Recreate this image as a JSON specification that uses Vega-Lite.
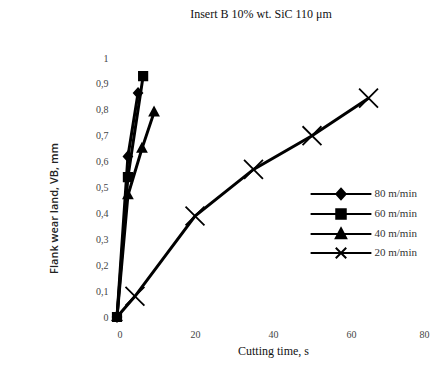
{
  "$schema": "https://vega.github.io/schema/vega-lite/v6.json",
  "autosize": "none",
  "padding": {"left": 117, "top": 58, "right": 7, "bottom": 61},
  "width": 312,
  "height": 259,
  "background": "white",
  "title": {"text": "Insert B 10% wt. SiC 110 μm", "font": "Liberation Serif", "fontSize": 12, "fontWeight": "normal", "color": "#111", "anchor": "middle", "dx": -12, "offset": 32},
  "config": {"view": {"stroke": null}},
  "data": {"values": [
    {"series": "80 m/min", "t": 0, "vb": 0},
    {"series": "80 m/min", "t": 2.8, "vb": 0.62},
    {"series": "80 m/min", "t": 5.4, "vb": 0.865},
    {"series": "60 m/min", "t": 0, "vb": 0},
    {"series": "60 m/min", "t": 2.8, "vb": 0.54},
    {"series": "60 m/min", "t": 6.7, "vb": 0.93},
    {"series": "40 m/min", "t": 0, "vb": 0},
    {"series": "40 m/min", "t": 2.8, "vb": 0.47},
    {"series": "40 m/min", "t": 6.4, "vb": 0.65},
    {"series": "40 m/min", "t": 9.5, "vb": 0.79},
    {"series": "20 m/min", "t": 0, "vb": 0},
    {"series": "20 m/min", "t": 4.6, "vb": 0.08},
    {"series": "20 m/min", "t": 20, "vb": 0.39},
    {"series": "20 m/min", "t": 35, "vb": 0.57},
    {"series": "20 m/min", "t": 50, "vb": 0.70},
    {"series": "20 m/min", "t": 64.5, "vb": 0.845}
  ]},
  "encoding": {
    "x": {"field": "t", "type": "quantitative", "scale": {"domain": [0, 80], "nice": false},
      "axis": {"title": "Cutting time, s", "values": [0, 20, 40, 60, 80], "domain": false, "ticks": false, "grid": false,
        "labelFont": "Liberation Serif", "labelFontSize": 10, "labelColor": "#444", "labelPadding": 12,
        "titleFont": "Liberation Serif", "titleFontSize": 12, "titleFontWeight": "normal", "titleColor": "#111", "titlePadding": 6}},
    "y": {"field": "vb", "type": "quantitative", "scale": {"domain": [0, 1], "nice": false},
      "axis": {"title": "Flank wear land, VB, mm", "values": [0, 0.1, 0.2, 0.3, 0.4, 0.5, 0.6, 0.7, 0.8, 0.9, 1], "labelExpr": "replace(format(datum.value, '.1~f'), '.', ',')",
        "domain": false, "ticks": false, "grid": false,
        "labelFont": "Liberation Serif", "labelFontSize": 10, "labelColor": "#444", "labelPadding": 9,
        "titleFont": "Open Sans", "titleFontSize": 11, "titleFontWeight": 600, "titleColor": "#222", "titleX": -58, "titleY": 150}}
  },
  "layer": [
    {
      "mark": {"type": "line", "color": "black"},
      "encoding": {
        "detail": {"field": "series"},
        "order": {"field": "t"},
        "strokeWidth": {"field": "series", "type": "nominal", "scale": {"domain": ["80 m/min", "60 m/min", "40 m/min", "20 m/min"], "range": [3, 3, 3, 1.8]}, "legend": null}
      }
    },
    {
      "transform": [{"filter": "!(datum.series == '20 m/min' && datum.t == 0)"}],
      "mark": {"type": "point", "filled": true, "fill": "black", "stroke": "black", "strokeWidth": 1.8, "opacity": 1, "size": 49},
      "encoding": {
        "shape": {"field": "series", "type": "nominal", "scale": {"domain": ["80 m/min", "60 m/min", "40 m/min", "20 m/min"],
          "range": ["M0,-1.35L1.2,0L0,1.35L-1.2,0Z", "M-1.2,-1.2H1.2V1.2H-1.2Z", "M0,-1.4L1.25,0.9L-1.25,0.9Z", "M-2.7,-2.7L2.7,2.7M-2.7,2.7L2.7,-2.7"]}, "legend": null}
      }
    },
    {
      "transform": [{"filter": "datum.t < 0"}],
      "mark": {"type": "point", "filled": false, "color": "black", "strokeWidth": 2, "opacity": 1},
      "encoding": {
        "shape": {"field": "series", "type": "nominal", "scale": {"domain": ["80 m/min", "60 m/min", "40 m/min", "20 m/min"],
          "range": [
            "M-3.2,0H3.2M0,-0.55L0.5,0L0,0.55L-0.5,0ZM0,-0.35L0.3,0L0,0.35L-0.3,0ZM0,-0.15L0.12,0L0,0.15L-0.12,0Z",
            "M-3.2,0H3.2M-0.5,-0.5H0.5V0.5H-0.5ZM-0.3,-0.3H0.3V0.3H-0.3ZM-0.1,-0.1H0.1V0.1H-0.1Z",
            "M-3.2,0H3.2M0,-0.6L0.55,0.45L-0.55,0.45ZM0,-0.3L0.3,0.3L-0.3,0.3ZM0,-0.05L0.1,0.2L-0.1,0.2Z",
            "M-3.2,0H3.2M-0.55,-0.55L0.55,0.55M-0.55,0.55L0.55,-0.55"]},
          "legend": {"title": null, "orient": "none", "legendX": 213.5, "legendY": 125.5, "padding": 0, "rowPadding": 0,
            "symbolSize": 361, "symbolStrokeColor": "black", "symbolStrokeWidth": 2, "symbolOpacity": 1,
            "labelFont": "Liberation Serif", "labelFontSize": 11, "labelColor": "#333", "labelOffset": 23}}
      }
    }
  ],
  "resolve": {"scale": {"shape": "independent"}, "legend": {"shape": "independent"}}
}
